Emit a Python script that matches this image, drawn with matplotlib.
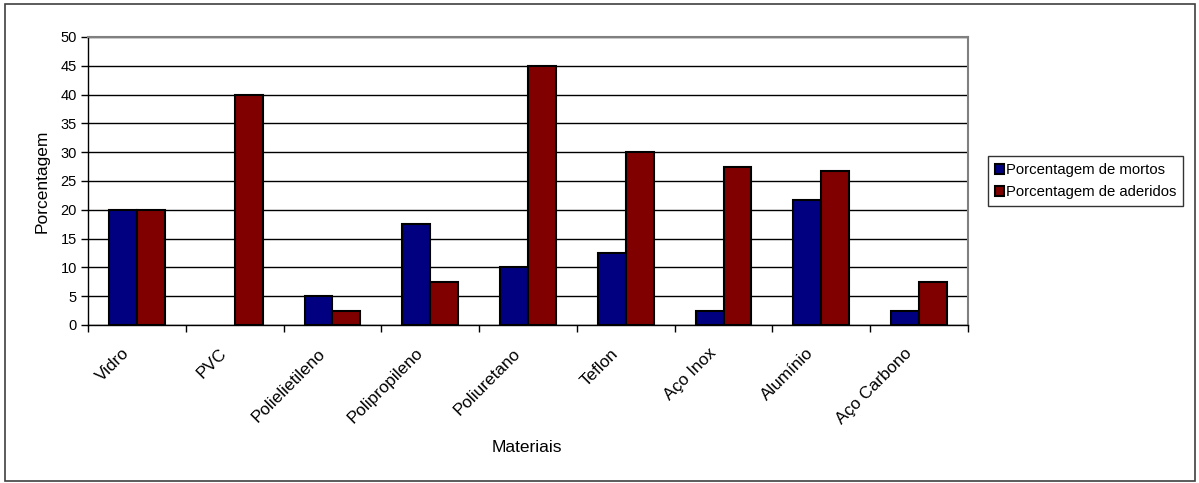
import matplotlib.pyplot as plt
import matplotlib.patches as mpatches
import matplotlib.transforms as mtransforms
import numpy as np

plt.rcParams['font.family'] = ['Liberation Sans', 'DejaVu Sans']

materiais = ["Vidro", "PVC", "Polielietileno", "Polipropileno", "Poliuretano",
             "Teflon", "Aço Inox", "Alumínio", "Aço Carbono"]
mortos = [20, 0, 5, 17.5, 10, 12.5, 2.5, 21.7, 2.5]
aderidos = [20, 40, 2.5, 7.5, 45, 30, 27.5, 26.7, 7.5]

blue = "#000080"
red = "#800000"

fig = plt.figure(figsize=(11.99, 4.83), dpi=100)
ax = fig.add_axes([88/1199, 1 - 325/483, (968 - 88)/1199, (325 - 37)/483])

# outer chart border
fig.patches.append(mpatches.Rectangle((5/1199, 2/483), 1190/1199, 477/483,
                                      transform=fig.transFigure, fill=False,
                                      edgecolor="#404040", linewidth=1.2))

x = np.arange(len(materiais))
w = 1 / 3.5
b1 = ax.bar(x - w/2, mortos, w, color=blue, edgecolor="black", linewidth=1.5,
            label="Porcentagem de mortos", zorder=3)
b2 = ax.bar(x + w/2, aderidos, w, color=red, edgecolor="black", linewidth=1.5,
            label="Porcentagem de aderidos", zorder=3)
# empty bars get no outline
for bars in (b1, b2):
    for p in bars:
        if p.get_height() == 0:
            p.set_linewidth(0)

ax.set_xlim(-0.5, len(materiais) - 0.5)
ax.set_ylim(0, 50)
ax.set_yticks(np.arange(0, 51, 5))
ax.yaxis.grid(True, color="black", linewidth=1)
ax.set_axisbelow(True)

# category ticks sit between the groups; names are placed as rotated texts
ax.set_xticks(np.arange(-0.5, len(materiais)))
ax.set_xticklabels([])
ax.tick_params(axis="x", length=5, width=1, color="black", direction="out")
ax.tick_params(axis="y", length=5, width=1, labelsize=10.5, pad=3)
off = mtransforms.ScaledTranslation(-10/100, -26/100, fig.dpi_scale_trans)
for xi, name in zip(x, materiais):
    ax.text(xi, 0, name, transform=ax.get_xaxis_transform() + off,
            rotation=45, ha="right", va="center", rotation_mode="anchor",
            fontsize=12.3)

for s in ["top", "right"]:
    ax.spines[s].set_color("#808080")
    ax.spines[s].set_linewidth(1.5)
for s in ["left", "bottom"]:
    ax.spines[s].set_color("black")
    ax.spines[s].set_linewidth(1)

ax.set_ylabel("Porcentagem", fontsize=12.5, labelpad=8)
fig.text(527/1199, 1 - 447/483, "Materiais", fontsize=12.5, ha="center", va="center")

leg = ax.legend(loc="center left", bbox_to_anchor=(988/1199, 1 - 181/483),
                bbox_transform=fig.transFigure, fontsize=10.7, frameon=True,
                fancybox=False, edgecolor="black", handlelength=0.6,
                handleheight=0.7, handletextpad=0.15, borderpad=0.45,
                labelspacing=0.55, borderaxespad=0)
leg.get_frame().set_linewidth(1)

fig.savefig("out.png", dpi=100)
